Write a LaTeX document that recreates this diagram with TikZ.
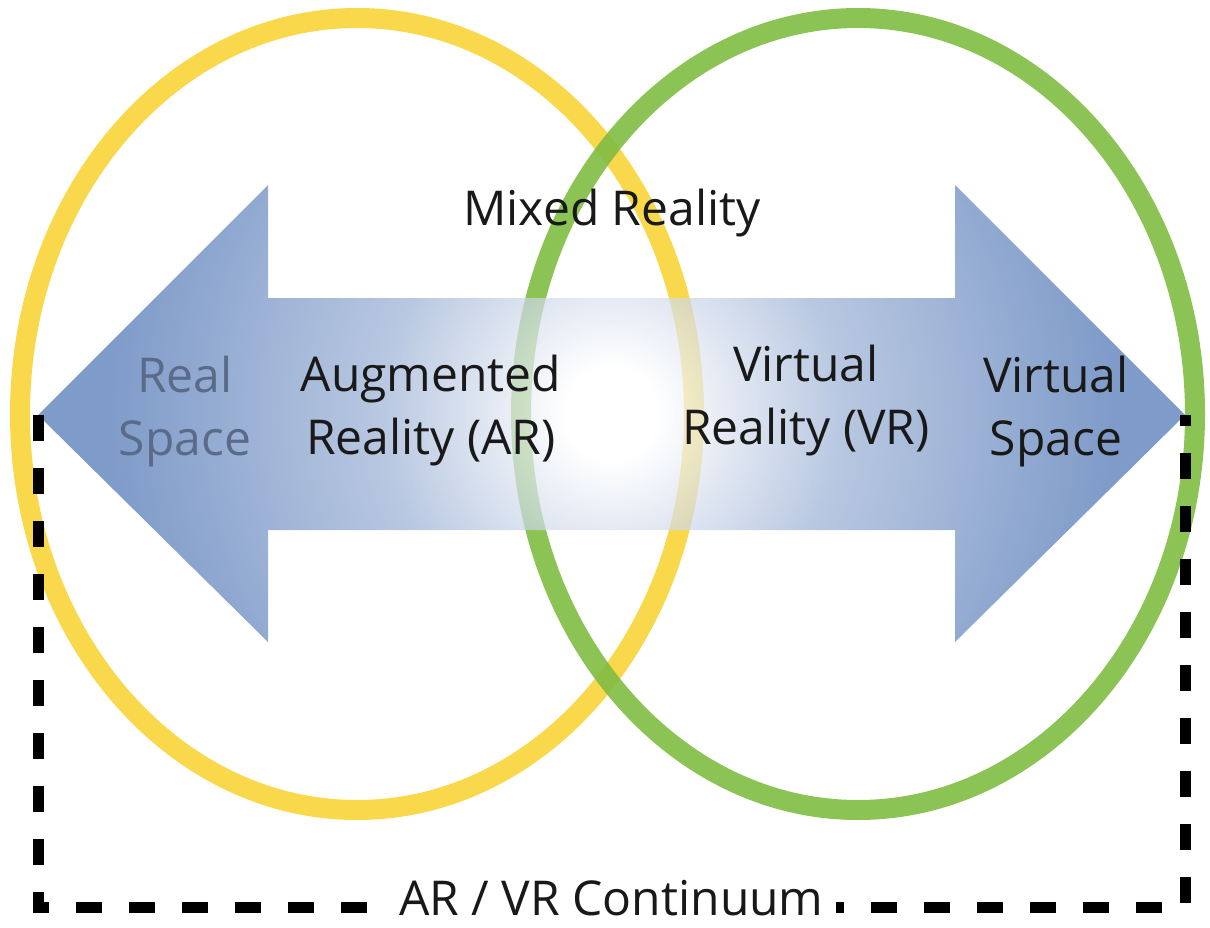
\documentclass[tikz,border=0pt]{standalone}
\usepackage{fontspec}
\setmainfont{Open Sans}
\usetikzlibrary{calc}
\definecolor{ringyellow}{HTML}{F9D84B}
\definecolor{ringgreen}{HTML}{80BC42}
\definecolor{arrowblue}{RGB}{72,112,178}
\definecolor{spacetext}{HTML}{5A6B88}
\colorlet{labeltext}{black!90}
\pgfdeclareradialshading{glow}{\pgfpoint{0bp}{0bp}}{%
  color(0bp)=(white); color(2bp)=(white);
  color(10bp)=(arrowblue!55!white);
  color(22bp)=(arrowblue); color(50bp)=(arrowblue)}
\tikzstyle{ring} = [line width=20pt]
\tikzstyle{biglabel} = [
    font=\fontsize{48}{63}\selectfont,
    text=labeltext,
    align=center,
    inner sep=0pt
    ]
\tikzstyle{continuum} = [
    draw=black,
    line width=11pt,
    dash pattern=on 26pt off 27pt
    ]

\begin{document}
\begin{tikzpicture}[x=1pt,y=-1pt]
\useasboundingbox (0,0) rectangle (1210,928);
% rings
\draw[ring, ringyellow] (357,414) ellipse [x radius=337, y radius=396];
\draw[ring, ringgreen, opacity=0.9] (858,414) ellipse [x radius=337, y radius=396];
% double arrow (the two moves keep the glow round)
\coordinate (realtip) at (38,415);
\coordinate (virttip) at (1185,415);
\coordinate (floor) at (612,907);
\path[shading=glow, opacity=0.7] (611.5,-160) (611.5,987)
    (realtip) -- (268,185) -- (268,298) -- (955,298)
    -- (955,185) -- (virttip) -- (955,642) -- (955,530) -- (268,530)
    -- (268,642) -- cycle;
\node[biglabel] (mixed) at (612,213) {Mixed Reality};
\node[biglabel, text=spacetext] (real) at (185,412) {Real\\Space};
\node[biglabel] (ar) at (431,411) {Augmented\\Reality (AR)};
\node[biglabel] (vr) at (806,401) {Virtual\\Reality (VR)};
\node[biglabel] (virtual) at (1056,412) {Virtual\\Space};
% continuum bracket
\draw[continuum] (realtip) -- (realtip |- floor)
    -- node[biglabel, fill=white, inner xsep=12pt, text depth=0pt,
            anchor=base, yshift=-8pt] (arvr) {AR / VR Continuum}
    (virttip |- floor) -- (virttip);
\end{tikzpicture}
\end{document}
